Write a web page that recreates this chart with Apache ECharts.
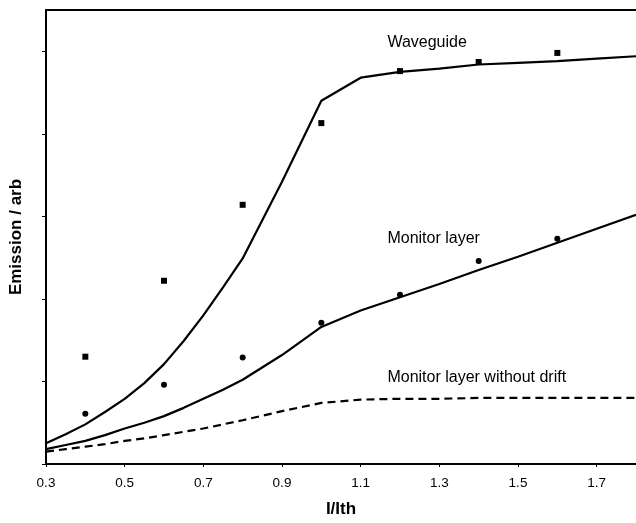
<!DOCTYPE html>
<html>
<head>
<meta charset="utf-8">
<script src="https://cdn.jsdelivr.net/npm/echarts@6/dist/echarts.min.js"></script>
<style>
  html, body { margin: 0; padding: 0; background: #fff; }
  #chart { width: 636px; height: 523px; }
</style>
</head>
<body>
<div id="chart"></div>
<script>
// model curves (finer below 0.8 where they bend)
const xFit = [0.3, 0.35, 0.4, 0.45, 0.5, 0.55, 0.6, 0.65, 0.7, 0.75, 0.8, 0.9, 1.0, 1.1, 1.2, 1.3, 1.4, 1.5, 1.6, 1.7, 1.8]
const waveguideFit = [0.25, 0.36, 0.48, 0.63, 0.79, 0.98, 1.21, 1.49, 1.80, 2.14, 2.49, 3.42, 4.40, 4.68, 4.75, 4.79, 4.84, 4.86, 4.88, 4.91, 4.94]
const monitorFit = [0.18, 0.23, 0.28, 0.35, 0.43, 0.50, 0.58, 0.68, 0.79, 0.90, 1.02, 1.32, 1.66, 1.86, 2.02, 2.18, 2.35, 2.51, 2.68, 2.85, 3.02]
const noDriftFit = [0.15, 0.18, 0.21, 0.24, 0.28, 0.31, 0.35, 0.39, 0.43, 0.48, 0.53, 0.64, 0.74, 0.78, 0.79, 0.79, 0.80, 0.80, 0.80, 0.80, 0.80]

// measured points
const xMeas = [0.4, 0.6, 0.8, 1.0, 1.2, 1.4, 1.6]
const waveguideMeas = [1.30, 2.22, 3.14, 4.13, 4.76, 4.87, 4.98]
const monitorMeas = [0.61, 0.96, 1.29, 1.71, 2.05, 2.46, 2.73]

// curve labels: [x, y, text]
const curveNotes = [
  [1.168, 5.10, 'Waveguide'],
  [1.168, 2.73, 'Monitor layer'],
  [1.168, 1.05, 'Monitor layer without drift']
]

const yTicks = [0, 1, 2, 3, 4, 5]

const font = '"Liberation Sans", Arial, sans-serif'
const pair = (xs, ys) => xs.map((x, i) => [x, ys[i]])

const lineSeries = (data, dashed) => ({
  type: 'line',
  data: data,
  symbol: 'none',
  lineStyle: { color: '#000', width: 2.2, type: dashed ? [8, 5] : 'solid' }
})

const myChart = echarts.init(document.getElementById('chart'))
const option = {
  animation: false,
  backgroundColor: '#fff',
  grid: { left: 45, right: 0, top: 10, bottom: 56 },
  xAxis: [
    {
      type: 'value',
      min: 0.3,
      max: 1.8,
      interval: 0.2,
      name: 'I/Ith',
      nameLocation: 'middle',
      nameGap: 37,
      nameTextStyle: { fontFamily: font, fontSize: 17, fontWeight: 'bold', color: '#000' },
      axisLine: { lineStyle: { color: '#000', width: 2 } },
      axisTick: { length: 3, lineStyle: { color: '#000' } },
      axisLabel: {
        fontFamily: font, fontSize: 13.5, color: '#000', margin: 12,
        showMaxLabel: false,
        formatter: v => v.toFixed(1)
      },
      splitLine: { show: false }
    },
    {
      type: 'value',
      position: 'top',
      min: 0.3,
      max: 1.8,
      axisLine: { show: true, lineStyle: { color: '#000', width: 2 } },
      axisTick: { show: false },
      axisLabel: { show: false },
      splitLine: { show: false }
    }
  ],
  yAxis: {
    type: 'value',
    min: 0,
    max: 5.5,
    interval: 1,
    name: 'Emission / arb',
    nameLocation: 'middle',
    nameGap: 21,
    nameTextStyle: { fontFamily: font, fontSize: 17, fontWeight: 'bold', color: '#000' },
    axisLine: { show: true, lineStyle: { color: '#000', width: 2 } },
    axisTick: { length: 4, customValues: yTicks, lineStyle: { color: '#000' } },
    axisLabel: { show: false },
    splitLine: { show: false }
  },
  series: [
    lineSeries(pair(xFit, waveguideFit), false),
    lineSeries(pair(xFit, monitorFit), false),
    lineSeries(pair(xFit, noDriftFit), true),
    {
      type: 'scatter',
      data: pair(xMeas, waveguideMeas),
      symbol: 'rect',
      symbolSize: 6,
      itemStyle: { color: '#000', opacity: 1 }
    },
    {
      type: 'scatter',
      data: pair(xMeas, monitorMeas),
      symbol: 'circle',
      symbolSize: 6,
      itemStyle: { color: '#000', opacity: 1 }
    },
    {
      type: 'scatter',
      symbolSize: 0,
      itemStyle: { opacity: 1 },
      data: curveNotes.map(n => ({ value: [n[0], n[1]], name: n[2] })),
      label: {
        show: true,
        position: 'right',
        distance: 0,
        formatter: p => p.name,
        fontFamily: font,
        fontSize: 16,
        color: '#000'
      }
    }
  ]
}
option && myChart.setOption(option)
</script>
</body>
</html>
